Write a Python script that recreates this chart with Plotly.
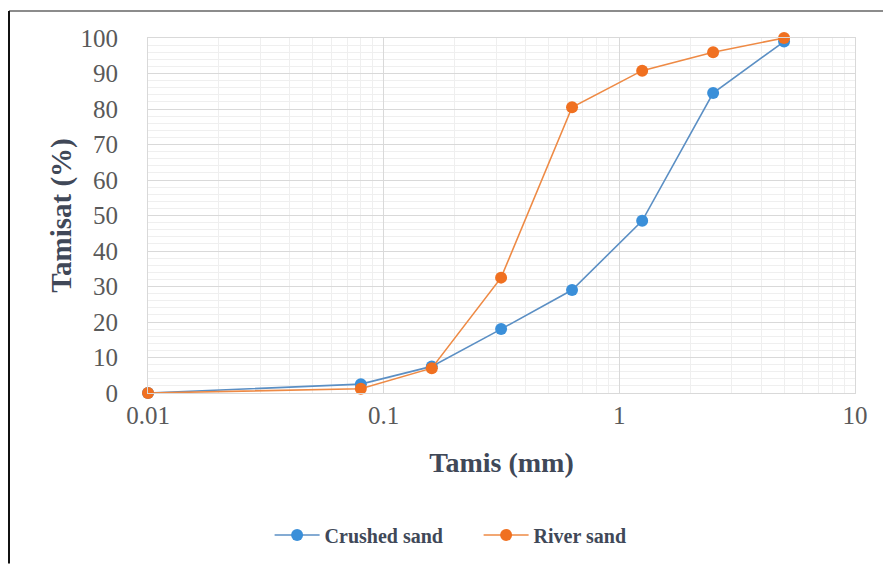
import plotly.graph_objects as go

sieve_mm = [0.01, 0.08, 0.16, 0.315, 0.63, 1.25, 2.5, 5]
crushed_sand = [0, 2.5, 7.5, 18, 29, 48.5, 84.5, 99]
river_sand = [0, 1.2, 7, 32.5, 80.5, 90.8, 96, 100]
x_tickvals = [0.01, 0.1, 1, 10]
x_ticktext = ["0.01", "0.1", "1", "10"]
y_tickvals = [0, 10, 20, 30, 40, 50, 60, 70, 80, 90, 100]

BLUE = "#3a8fd9"
ORANGE = "#f07020"
FONT = "Liberation Serif"

fig = go.Figure()
fig.add_trace(go.Scatter(x=sieve_mm, y=crushed_sand, name="Crushed sand",
                         mode="lines+markers", cliponaxis=False,
                         line=dict(color="#5b8fc4", width=1.6),
                         marker=dict(color=BLUE, size=12)))
fig.add_trace(go.Scatter(x=sieve_mm, y=river_sand, name="River sand",
                         mode="lines+markers", cliponaxis=False,
                         line=dict(color="#ee8a45", width=1.6),
                         marker=dict(color=ORANGE, size=12)))

minor_x = []
for d in [0.01, 0.1, 1]:
    for k in range(2, 10):
        minor_x.append(d * k)

fig.update_layout(
    width=883, height=565,
    margin=dict(l=148, r=28, t=38, b=171),
    paper_bgcolor="white", plot_bgcolor="white",
    font=dict(family=FONT, color="#595959"),
    showlegend=True,
    legend=dict(orientation="h", x=0.172, y=-0.396, xanchor="left", yanchor="middle",
                font=dict(family=FONT, size=20, color="#404858", weight="bold"),
                entrywidth=149, entrywidthmode="pixels", itemwidth=45,
                tracegroupgap=0),
    xaxis=dict(type="log", range=[-2, 1], tickvals=x_tickvals, ticktext=x_ticktext,
               tickfont=dict(size=25, color="#595959"),
               showgrid=True, gridcolor="#d9d9d9", gridwidth=1,
               zeroline=False, showline=True, linecolor="#d9d9d9", mirror=True,
               ticks="", ticklabelstandoff=0,
               minor=dict(tickvals=minor_x, showgrid=True, gridcolor="#efefef", gridwidth=1),
               title=dict(text="<b>Tamis (mm)</b>", font=dict(size=28, color="#404858"), standoff=24)),
    yaxis=dict(range=[0, 100], tickvals=y_tickvals,
               tickfont=dict(size=25, color="#595959"),
               showgrid=True, gridcolor="#d9d9d9", gridwidth=1,
               zeroline=False, showline=True, linecolor="#d9d9d9", mirror=True,
               ticks="", ticklabelstandoff=24,
               minor=dict(dtick=2, showgrid=True, gridcolor="#efefef", gridwidth=1),
               title=dict(text="<b>Tamisat (%)</b>", font=dict(size=29, color="#404858"), standoff=0)),
)

# outer frame lines (top gray, left black) as in the reference image
fig.add_shape(type="line", xref="paper", yref="paper",
              x0=(9 - 148) / 707, x1=(883 - 148) / 707,
              y0=(394 - 11) / 356, y1=(394 - 11) / 356,
              line=dict(color="#8c8c8c", width=2))
fig.add_shape(type="line", xref="paper", yref="paper",
              x0=(9 - 148) / 707, x1=(9 - 148) / 707,
              y0=(394 - 11) / 356, y1=(394 - 565) / 356,
              line=dict(color="#111111", width=2))

fig.write_html("out.html")
